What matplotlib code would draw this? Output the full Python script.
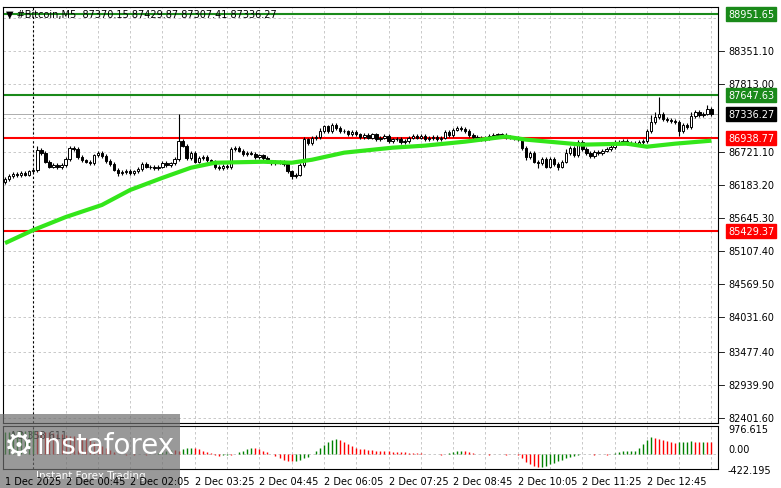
import matplotlib
matplotlib.use("Agg")
import matplotlib.pyplot as plt
import matplotlib.transforms as mtransforms
import numpy as np

closes = [86280,86330,86360,86340,86380,86350,86400,86420,86750,86700,
          86560,86480,86500,86470,86500,86600,86780,86760,86640,86580,
          86560,86540,86660,86700,86650,86570,86520,86430,86370,86390,
          86410,86380,86400,86440,86520,86480,86470,86450,86480,86540,
          86500,86530,86600,86900,86820,86620,86700,86560,86620,86640,
          86580,86560,86480,86460,86490,86470,86760,86780,86740,86680,
          86700,86690,86640,86660,86620,86560,86540,86560,86550,86520,
          86400,86330,86350,86500,86920,86860,86940,86960,87050,87130,
          87060,87150,87100,87060,87050,87000,87040,87000,86960,86990,
          86950,87000,86920,86950,86980,86900,86920,86930,86880,86900,
          86950,86980,86950,86980,86930,86940,86960,86920,86950,87040,
          86990,87080,87100,87090,87060,86990,86960,86950,86920,86940,
          86970,86990,87000,86990,86960,86950,86940,86920,86780,86640,
          86700,86560,86540,86600,86480,86600,86520,86480,86560,86700,
          86780,86660,86880,86760,86700,86650,86720,86700,86740,86760,
          86800,86880,86870,86890,86860,86870,86850,86880,86900,87060,
          87200,87280,87340,87250,87240,87220,87200,87050,87160,87120,
          87300,87360,87320,87340,87420,87336]
first_open = 86230
wick_up_override = {43: 430, 8: 60, 16: 40, 74: 40, 78: 60, 139: 60, 160: 120, 161: 80, 162: 260, 170: 60, 174: 60, 111: 30}
wick_dn_override = {71: 60, 129: 60, 132: 90, 137: 60, 167: 70, 28: 40, 52: 40}

ma_idx = [0, 7, 15, 24, 31, 39, 46, 52, 64, 71, 76, 84, 96, 104, 114, 124, 129, 143, 154, 159, 166, 175]
ma_val = [85238, 85450, 85660, 85857, 86100, 86297, 86460, 86542, 86558, 86542, 86590, 86705, 86786, 86819, 86884, 86966, 86917, 86835, 86851, 86802, 86851, 86900]

ao = [850,870,890,900,900,910,920,930,910,890,870,850,820,800,780,760,730,700,680,650,
      630,600,480,400,320,250,170,100,30,20,-20,10,-30,20,30,-20,10,30,60,100,
      140,180,160,120,200,250,260,240,200,150,100,50,-30,-40,-30,-20,-30,30,80,150,
      200,250,240,200,150,80,20,-60,-150,-220,-250,-260,-240,-200,-150,-80,0,120,250,380,
      480,560,590,550,480,400,330,270,220,200,180,160,150,140,130,120,110,100,90,80,
      70,60,50,40,30,20,10,0,-20,20,60,100,130,150,140,100,60,20,20,10,
      -10,10,20,10,-10,10,20,-20,-150,-280,-380,-450,-500,-480,-430,-380,-320,-260,-200,-140,
      -80,-50,-20,10,20,10,-10,20,10,-30,20,60,100,120,130,140,150,260,420,560,
      660,640,600,560,520,480,450,470,480,500,510,500,490,500,480,470]

ytick_vals = [88889.00, 88351.10, 87813.00, 87275.10, 86721.10, 86183.20, 85645.30, 85107.40,
              84569.50, 84031.60, 83477.40, 82939.90, 82401.60]
ytick_labels = ["88889.00", "88351.10", "87813.00", "87275.10", "86721.10", "86183.20", "85645.30", "85107.40",
                "84569.50", "84031.60", "83477.40", "82939.90", "82401.60"]
green_levels = [88951.65, 87647.63]
red_levels = [86938.77, 85429.37]
last_price = 87336.27
time_ticks = [0, 15, 31, 47, 63, 79, 95, 111, 127, 143, 159]
time_labels = ["1 Dec 2025", "2 Dec 00:45", "2 Dec 02:05", "2 Dec 03:25", "2 Dec 04:45", "2 Dec 06:05",
               "2 Dec 07:25", "2 Dec 08:45", "2 Dec 10:05", "2 Dec 11:25", "2 Dec 12:45"]

n = len(closes)
opens = [first_open] + closes[:-1]
highs = [max(o, c) + wick_up_override.get(i, 30) for i, (o, c) in enumerate(zip(opens, closes))]
lows = [min(o, c) - wick_dn_override.get(i, 30) for i, (o, c) in enumerate(zip(opens, closes))]
x = np.arange(n)

W, H = 781, 489
fig = plt.figure(figsize=(W/100, H/100), dpi=100)
fig.patch.set_facecolor("white")
plt.rcParams['font.family'] = ['DejaVu Sans']
L, R = 3/W, 718/W
ax = fig.add_axes([L, 1-424/H, R-L, (424-8)/H])
ax2 = fig.add_axes([L, 1-470/H, R-L, (470-427)/H])

xmin, xmax = -0.5, (715-5)/4.02
for a in (ax, ax2):
    a.set_xlim(xmin, xmax)
    for s in a.spines.values():
        s.set_color("black"); s.set_linewidth(0.8)
    a.tick_params(left=False, right=False, bottom=False, top=False, labelleft=False, labelbottom=False)
    for gx in range(7, n + 8, 8):
        a.axvline(gx, color="#c0c0c0", lw=0.6, ls=(0, (3, 3)), zorder=0)
    a.axvline(7, color="black", lw=0.8, ls=(0, (2, 2)), zorder=1)

ylo, yhi = 82320, 89068
ax.set_ylim(ylo, yhi)
for v in ytick_vals:
    ax.axhline(v, color="#c0c0c0", lw=0.6, ls=(0, (3, 3)), zorder=0)

for i in range(n):
    o, c = opens[i], closes[i]
    ax.vlines(i, lows[i], highs[i], color="black", lw=0.8, zorder=3)
    bull = c >= o
    ax.bar(i, max(abs(c-o), 8), bottom=min(o, c), width=0.6,
           facecolor="white" if bull else "black", edgecolor="black", lw=0.7, zorder=4)

ax.plot(ma_idx, ma_val, color="#33e61a", lw=3, zorder=5, solid_capstyle="butt")
for v in green_levels:
    ax.axhline(v, color="#1a8a1a", lw=1.5, zorder=2)
for v in red_levels:
    ax.axhline(v, color="#ff0000", lw=1.5, zorder=2)
ax.axhline(last_price, color="#a0a0a0", lw=0.6, zorder=2)

tr = mtransforms.blended_transform_factory(ax.transAxes, ax.transData)
hidden = {"88889.00", "87275.10"}
for v, lab in zip(ytick_vals, ytick_labels):
    if lab in hidden:
        continue
    ax.text(1.014, v, lab, transform=tr, fontsize=7, va="center", ha="left", clip_on=False)
    ax.plot([1.0, 1.008], [v, v], transform=tr, color="black", lw=0.6, clip_on=False)
def box(v, txt, fc, tc="white"):
    ax.text(1.014, v, txt, transform=tr, fontsize=7, va="center", ha="left", color=tc, clip_on=False,
            bbox=dict(boxstyle="square,pad=0.2", fc=fc, ec=fc), zorder=10)
box(green_levels[0], "88951.65", "#1a8a1a")
box(green_levels[1], "87647.63", "#1a8a1a")
box(red_levels[0], "86938.77", "#ff0000")
box(red_levels[1], "85429.37", "#ff0000")
box(last_price, "87336.27", "black")

ax.text(0.004, 0.995, "\u25bc #Bitcoin,M5  87370.15 87429.87 87307.41 87336.27", transform=ax.transAxes,
        fontsize=7, va="top", ha="left")

ax2.set_ylim(-560, 1100)
m = min(n, len(ao))
cols = ["#008000" if i == 0 or ao[i] >= ao[i-1] else "#ff0000" for i in range(m)]
ax2.vlines(x[:m], 0, ao[:m], colors=cols, lw=1.0, zorder=3)
ax2.axhline(0, color="#c0c0c0", lw=0.6, ls=(0, (3, 3)), zorder=0)
tr2 = mtransforms.blended_transform_factory(ax2.transAxes, ax2.transData)
for v, lab, va in [(976.615, "976.615", "center"), (0, "0.00", "bottom"), (-422.195, "-422.195", "top")]:
    ax2.text(1.014, v, lab, transform=tr2, fontsize=7, va=va, ha="left", clip_on=False)
ax2.text(0.01, 0.9, "AO 358.611", transform=ax2.transAxes, fontsize=7, va="top", ha="left")

for t, lab in zip(time_ticks, time_labels):
    xf = (t - xmin) / (xmax - xmin)
    fig.text(L + xf*(R-L), 1-482/H, lab, fontsize=7, va="center", ha="left")

wm = fig.add_axes([0, 0, 180/W, 74/H])
wm.set_xlim(0, 1); wm.set_ylim(0, 1)
wm.patch.set_facecolor("#6e6e6e"); wm.patch.set_alpha(0.7)
wm.set_xticks([]); wm.set_yticks([])
for s in wm.spines.values():
    s.set_visible(False)
wm.text(0.02, 0.58, "\u2699", color="white", fontsize=24, va="center", ha="left")
wm.text(0.2, 0.58, "instaforex", color="white", fontsize=20, va="center", ha="left")
wm.text(0.2, 0.17, "Instant Forex Trading", color="white", fontsize=7.5, va="center", ha="left")

fig.savefig("out.png", dpi=100)
